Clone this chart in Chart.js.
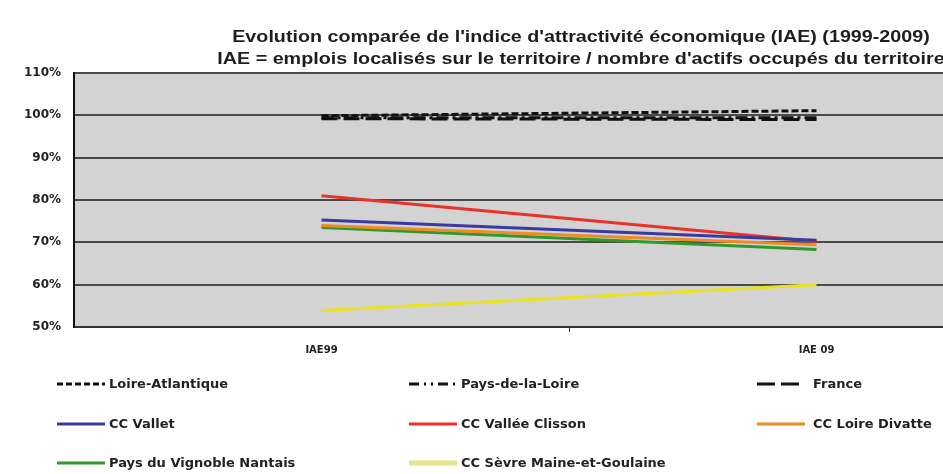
<!DOCTYPE html>
<html lang="fr">
<head>
<meta charset="utf-8">
<title>Indice d'attractivité économique</title>
<script src="https://cdn.jsdelivr.net/npm/chart.js@4/dist/chart.umd.min.js"></script>
<style>
  html, body { margin: 0; padding: 0; background: #ffffff; overflow: hidden; }
  #wrap { width: 943px; height: 474px; overflow: hidden; position: relative; }
  canvas { display: block; }
</style>
</head>
<body>
<div id="wrap"><canvas id="iae" width="1070" height="474"></canvas></div>
<script>
// Catégories (années de l'indice)
const CATEGORIES = ['IAE99', 'IAE 09'];

// Valeurs de l'IAE en %
const loireAtlantique      = [99.9, 101.1];
const paysDeLaLoire        = [99.4, 99.4];
const france               = [99.2, 99.0];
const ccVallet             = [75.3, 70.5];
const ccValleeClisson      = [81.0, 70.2];
const ccLoireDivatte       = [74.0, 69.4];
const paysVignobleNantais  = [73.5, 68.3];
const ccSevreMaine         = [53.9, 60.0];

// Graduations de l'axe vertical
const Y_TICKS = [50, 60, 70, 80, 90, 100, 110];

const TITLE_LINES = [
  "Evolution comparée de l'indice d'attractivité économique (IAE) (1999-2009)",
  "IAE = emplois localisés sur le territoire / nombre d'actifs occupés du territoire"
];

const series = [
  { label: 'Loire-Atlantique', data: loireAtlantique, color: '#111111', dash: [7, 3], legendDash: [6, 3] },
  { label: 'Pays-de-la-Loire', data: paysDeLaLoire, color: '#111111', dash: [12, 4, 3, 4], legendDash: [10, 5, 2, 5, 2, 5] },
  { label: 'France', data: france, color: '#111111', dash: [16, 6], legendDash: [18, 6] },
  { label: 'CC Vallet', data: ccVallet, color: '#3b3aa3', dash: [] },
  { label: 'CC Vallée Clisson', data: ccValleeClisson, color: '#e8322a', dash: [] },
  { label: 'CC Loire Divatte', data: ccLoireDivatte, color: '#f08a22', dash: [] },
  { label: 'Pays du Vignoble Nantais', data: paysVignobleNantais, color: '#2e9a2e', dash: [] },
  { label: 'CC Sèvre Maine-et-Goulaine', data: ccSevreMaine, color: '#e9e21f', dash: [], legendColor: '#e8e48a' }
];

// Fond gris de la zone de tracé
const plotBackground = {
  id: 'plotBackground',
  beforeDraw(chart) {
    const { ctx, chartArea: a } = chart;
    ctx.save();
    ctx.fillStyle = '#d3d3d3';
    ctx.fillRect(a.left, a.top, a.right - a.left, a.bottom - a.top);
    ctx.restore();
  }
};

// Titre sur deux lignes, police légèrement élargie
const headerText = {
  id: 'headerText',
  afterDraw(chart) {
    const ctx = chart.ctx;
    const cx = 581, stretch = 1.16;
    ctx.save();
    ctx.fillStyle = '#1e1e1e';
    ctx.font = 'bold 17px "Liberation Sans", Arial, sans-serif';
    ctx.textAlign = 'center';
    ctx.textBaseline = 'middle';
    ctx.translate(cx, 0);
    ctx.scale(stretch, 1);
    TITLE_LINES.forEach((t, i) => ctx.fillText(t, 0, 37 + i * 22));
    ctx.restore();
  }
};

// Légende en grille de trois colonnes
const gridLegend = {
  id: 'gridLegend',
  afterDraw(chart) {
    const ctx = chart.ctx;
    const colX = [57, 409, 757];
    const rowY = [384, 424, 463];
    const sampleW = 48;
    ctx.save();
    ctx.font = 'bold 13px "DejaVu Sans", sans-serif';
    ctx.textBaseline = 'middle';
    ctx.textAlign = 'left';
    chart.data.datasets.forEach((ds, i) => {
      const x = colX[i % 3];
      const y = rowY[Math.floor(i / 3)];
      ctx.beginPath();
      ctx.setLineDash(ds.legendDash || ds.borderDash || []);
      ctx.strokeStyle = ds.legendColor || ds.borderColor;
      ctx.lineWidth = ds.legendColor ? 5 : 3;
      ctx.moveTo(x, y);
      ctx.lineTo(x + sampleW, y);
      ctx.stroke();
      ctx.setLineDash([]);
      ctx.fillStyle = '#222222';
      ctx.fillText(ds.label, x + sampleW + 4 + (i % 3 === 2 ? 4 : 0), y + 1);
    });
    ctx.restore();
  }
};

new Chart(document.getElementById('iae'), {
  type: 'line',
  data: {
    labels: CATEGORIES,
    datasets: series.map(s => ({
      label: s.label,
      data: s.data,
      borderColor: s.color,
      backgroundColor: s.color,
      borderDash: s.dash,
      legendDash: s.legendDash,
      legendColor: s.legendColor,
      borderWidth: 3,
      pointRadius: 0,
      tension: 0,
      fill: false
    }))
  },
  options: {
    responsive: false,
    animation: false,
    devicePixelRatio: 1,
    layout: { padding: { top: 73, right: 6, bottom: 0, left: 0 } },
    plugins: {
      legend: { display: false },
      title: { display: false },
      tooltip: { enabled: false }
    },
    scales: {
      x: {
        type: 'category',
        offset: true,
        afterFit(scale) { scale.height = 147; },
        grid: {
          display: true,
          offset: true,
          drawOnChartArea: false,
          drawTicks: true,
          tickLength: 5,
          color: ctx => (ctx.index === 1 ? '#333333' : 'rgba(0,0,0,0)'),
          lineWidth: 1
        },
        border: { display: true, color: '#333333', width: 2 },
        ticks: {
          padding: 12,
          color: '#222222',
          font: { family: '"DejaVu Sans", sans-serif', size: 10, weight: 'bold' }
        }
      },
      y: {
        min: 50,
        max: 110,
        afterFit(scale) { scale.width = 74; },
        afterBuildTicks(scale) { scale.ticks = Y_TICKS.map(v => ({ value: v })); },
        grid: {
          color: '#4a4a4a',
          lineWidth: 2,
          drawTicks: false
        },
        border: { display: true, color: '#111111', width: 2 },
        ticks: {
          padding: 13,
          color: '#222222',
          font: { family: '"DejaVu Sans", sans-serif', size: 12, weight: 'bold' },
          callback: v => v + '%'
        }
      }
    }
  },
  plugins: [plotBackground, headerText, gridLegend]
});
</script>
</body>
</html>
